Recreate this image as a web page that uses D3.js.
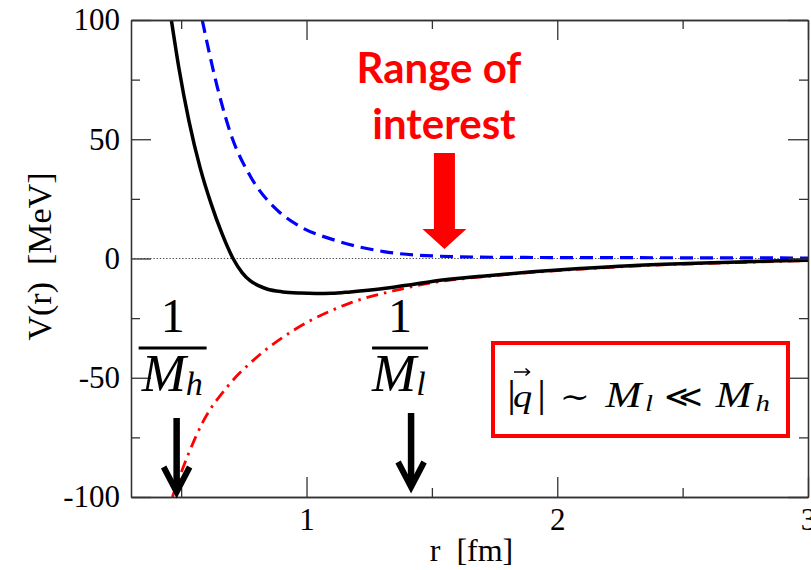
<!DOCTYPE html>
<html>
<head>
<meta charset="utf-8">
<script src="https://cdn.jsdelivr.net/npm/d3@7"></script>
<style>
  html, body { margin: 0; padding: 0; background: #fff; overflow: hidden; }
  svg { display: block; }
</style>
</head>
<body>
<svg id="chart" width="811" height="570"></svg>
<script>
// Potential V(r) samples: r in fm, V in MeV
const totalR = [0.461, 0.491, 0.531, 0.575, 0.619, 0.663, 0.707, 0.743, 0.775, 0.811, 0.842, 0.906, 0.974, 1.038, 1.1, 1.175, 1.3, 1.4, 1.5, 1.6, 1.7, 1.9, 2.09, 2.29, 2.49, 2.69, 2.85, 3.0];
const totalV = [100, 79.9, 57.7, 38.3, 23.1, 10.4, 0, -5.9, -9.3, -11.5, -12.8, -14.0, -14.5, -14.7, -14.6, -14.0, -12.7, -11.2, -9.6, -8.4, -7.4, -5.6, -4.2, -3.0, -2.2, -1.6, -1.1, -0.7];

const repulsiveR = [0.584, 0.644, 0.697, 0.777, 0.883, 0.976, 1.109, 1.308, 1.507, 1.77, 2.0, 2.5, 3.0];
const repulsiveV = [100, 72, 52.5, 34.3, 20.3, 13.3, 7.8, 2.9, 1.05, 0.5, 0.4, 0.3, 0.2];

const attractiveR = [0.465, 0.525, 0.591, 0.684, 0.804, 0.95, 1.016, 1.096, 1.175, 1.375, 1.5, 1.6, 1.7, 1.9, 2.1, 2.3, 2.5, 2.7, 3.0];
const attractiveV = [-100, -83, -67.7, -53.8, -41.2, -30, -26, -22, -18.6, -12.9, -10.2, -8.75, -7.7, -5.85, -4.4, -3.2, -2.35, -1.75, -0.85];

// Axis ticks
const xMajorTicks = [1, 2, 3];
const xMinorTicks = [0.5, 1.5, 2.5];
const yMajorTicks = [-100, -50, 0, 50, 100];
const yMinorTicks = [-75, -25, 25, 75];

// Length scales marked on the r axis (1/M_h and 1/M_l, in fm)
const scaleR = [0.482, 1.417];
const scaleSub = ["h", "l"];
// Region pointed at by the "Range of interest" arrow
const interestR = 1.55;
const interestV = 4;

const svg = d3.select("#chart");
const x = d3.scaleLinear().domain([0.3, 3]).range([131, 808]);
const y = d3.scaleLinear().domain([-100, 100]).range([497, 20]);

const serif = "'Liberation Serif', serif";
const mathSym = "'DejaVu Serif', serif";
const axisColor = "#333";

svg.append("rect").attr("width", 811).attr("height", 570).attr("fill", "#fff");

svg.append("defs").append("clipPath").attr("id", "plotClip")
  .append("rect")
  .attr("x", x.range()[0]).attr("y", y.range()[1])
  .attr("width", x.range()[1] - x.range()[0])
  .attr("height", y.range()[0] - y.range()[1]);

// dotted zero line
svg.append("line")
  .attr("x1", x.range()[0]).attr("x2", x.range()[1])
  .attr("y1", y(0)).attr("y2", y(0))
  .attr("stroke", "#444").attr("stroke-width", 1.2)
  .attr("stroke-dasharray", "1.3,1.9");

// curves
const zip = (rs, vs) => rs.map((r, i) => [r, vs[i]]);
const line = d3.line().x(d => x(d[0])).y(d => y(d[1])).curve(d3.curveMonotoneX);
const plot = svg.append("g").attr("clip-path", "url(#plotClip)");

plot.append("path").datum(zip(repulsiveR, repulsiveV))
  .attr("d", line).attr("fill", "none")
  .attr("stroke", "#0000ff").attr("stroke-width", 3.2)
  .attr("stroke-dasharray", "13,7");

plot.append("path").datum(zip(attractiveR, attractiveV))
  .attr("d", line).attr("fill", "none")
  .attr("stroke", "#ff0000").attr("stroke-width", 2.8)
  .attr("stroke-dasharray", "12,6,2.5,6");

plot.append("path").datum(zip(totalR, totalV))
  .attr("d", line).attr("fill", "none")
  .attr("stroke", "#000").attr("stroke-width", 3.5)
  .attr("stroke-linejoin", "round");

// axes: ticks point inward on all four sides
function styleAxis(g) {
  g.select(".domain").attr("stroke", axisColor).attr("stroke-width", 1.3);
  g.selectAll(".tick line").attr("stroke", axisColor).attr("stroke-width", 1.3);
  g.selectAll(".tick text").attr("fill", "#000")
    .style("font-family", serif).style("font-size", "31px");
}
const fmt = d => String(d);
const B = y.range()[0], T = y.range()[1], L = x.range()[0], R = x.range()[1];

svg.append("g").attr("transform", `translate(0,${B})`)
  .call(d3.axisBottom(x).tickValues(xMajorTicks).tickSize(-20).tickSizeOuter(0).tickPadding(11).tickFormat(fmt)).call(styleAxis);
svg.append("g").attr("transform", `translate(0,${B})`)
  .call(d3.axisBottom(x).tickValues(xMinorTicks).tickSize(-9).tickSizeOuter(0).tickFormat("")).call(styleAxis);
svg.append("g").attr("transform", `translate(0,${T})`)
  .call(d3.axisTop(x).tickValues(xMajorTicks).tickSize(-20).tickSizeOuter(0).tickFormat("")).call(styleAxis);
svg.append("g").attr("transform", `translate(0,${T})`)
  .call(d3.axisTop(x).tickValues(xMinorTicks).tickSize(-9).tickSizeOuter(0).tickFormat("")).call(styleAxis);

svg.append("g").attr("transform", `translate(${L},0)`)
  .call(d3.axisLeft(y).tickValues(yMajorTicks).tickSize(-20).tickSizeOuter(0).tickPadding(11).tickFormat(fmt)).call(styleAxis);
svg.append("g").attr("transform", `translate(${L},0)`)
  .call(d3.axisLeft(y).tickValues(yMinorTicks).tickSize(-9).tickSizeOuter(0).tickFormat("")).call(styleAxis);
svg.append("g").attr("transform", `translate(${R},0)`)
  .call(d3.axisRight(y).tickValues(yMajorTicks).tickSize(-20).tickSizeOuter(0).tickFormat("")).call(styleAxis);
svg.append("g").attr("transform", `translate(${R},0)`)
  .call(d3.axisRight(y).tickValues(yMinorTicks).tickSize(-9).tickSizeOuter(0).tickFormat("")).call(styleAxis);

// axis titles
svg.append("text")
  .attr("x", (L + R) / 2 + 2).attr("y", 561)
  .attr("text-anchor", "middle")
  .style("font-family", serif).style("font-size", "32px").attr("fill", "#000")
  .style("white-space", "pre")
  .text("r  [fm]");

svg.append("text")
  .attr("transform", `translate(51,${(T + B) / 2 - 2}) rotate(-90)`)
  .attr("text-anchor", "middle")
  .style("font-family", serif).style("font-size", "34px").attr("fill", "#000")
  .style("white-space", "pre")
  .text("V(r)  [MeV]");

// "Range of interest" callout
const sans = "Lato, 'Open Sans', sans-serif";
const callout = svg.append("g").attr("fill", "#ff0000")
  .style("font-family", sans).style("font-weight", "bold").style("font-size", "42px")
  .attr("text-anchor", "middle");
callout.append("text").attr("x", 439).attr("y", 83).text("Range of");
callout.append("text").attr("x", 444).attr("y", 139).text("interest");

const ax = x(interestR), ay = y(interestV);
svg.append("path")
  .attr("d", `M${ax - 10.5},${ay - 96} L${ax + 10.5},${ay - 96} L${ax + 10.5},${ay - 20} L${ax + 22},${ay - 20} L${ax},${ay} L${ax - 22},${ay - 20} L${ax - 10.5},${ay - 20} Z`)
  .attr("fill", "#ff0000");

// 1/M markers with down arrows
const fracOffsets = [-4, -11];
const shaftTop = [418, 413];
const tipY = [492, 487];
scaleR.forEach((r, i) => {
  const px = x(r);
  const g = svg.append("g");
  g.append("line").attr("x1", px).attr("x2", px).attr("y1", shaftTop[i]).attr("y2", tipY[i] - 2)
    .attr("stroke", "#000").attr("stroke-width", 6.5);
  g.append("path")
    .attr("d", `M${px - 13},${tipY[i] - 25} L${px},${tipY[i]} L${px + 13},${tipY[i] - 25}`)
    .attr("fill", "none").attr("stroke", "#000").attr("stroke-width", 6)
    .attr("stroke-linejoin", "miter").attr("stroke-miterlimit", 10);

  const cx = px + fracOffsets[i];
  g.append("text").attr("x", cx).attr("y", 332).attr("text-anchor", "middle")
    .style("font-family", serif).style("font-size", "48px").attr("fill", "#000").text("1");
  const halfBar = i === 0 ? 34 : 28;
  g.append("line").attr("x1", cx - halfBar).attr("x2", cx + halfBar).attr("y1", 348).attr("y2", 348)
    .attr("stroke", "#000").attr("stroke-width", 3.2);
  const m = g.append("text").attr("x", cx + (i === 0 ? -31 : -28)).attr("y", 391)
    .style("font-family", serif).style("font-style", "italic").style("font-size", "53px").attr("fill", "#000");
  m.append("tspan").text("M");
  m.append("tspan").attr("dy", 4).style("font-size", "34px").text(scaleSub[i]);
});

// box with the scale hierarchy
svg.append("rect")
  .attr("x", 493).attr("y", 343).attr("width", 295).attr("height", 93)
  .attr("fill", "#fff").attr("stroke", "#ff0000").attr("stroke-width", 4);

const sx = 1.2;
const rel = svg.append("g").attr("transform", `translate(507,407) scale(${sx},1)`)
  .append("text").attr("y", 0)
  .style("font-family", serif).style("font-size", "36px").attr("fill", "#000");
rel.append("tspan").attr("x", 0).style("font-size", "38px").text("|");
rel.append("tspan").attr("x", 5).style("font-style", "italic").style("font-size", "32px").text("q");
rel.append("tspan").attr("x", 25).style("font-size", "38px").text("|");
rel.append("tspan").attr("x", 44).style("font-family", mathSym).style("font-size", "30px").text("\u223C");
rel.append("tspan").attr("x", 82).style("font-style", "italic").text("M");
rel.append("tspan").attr("x", 115).attr("dy", 4).style("font-style", "italic").style("font-size", "24px").text("l");
rel.append("tspan").attr("x", 131).attr("dy", -4).style("font-family", mathSym).style("font-size", "31px").text("\u226A");
rel.append("tspan").attr("x", 174).style("font-style", "italic").text("M");
rel.append("tspan").attr("x", 207).attr("dy", 4).style("font-style", "italic").style("font-size", "24px").text("h");

// vector arrow over q
svg.append("path")
  .attr("d", "M514,372 L529,372 M525.5,368.5 L529.5,372 L525.5,375.5")
  .attr("fill", "none").attr("stroke", "#000").attr("stroke-width", 1.5);
</script>
</body>
</html>
